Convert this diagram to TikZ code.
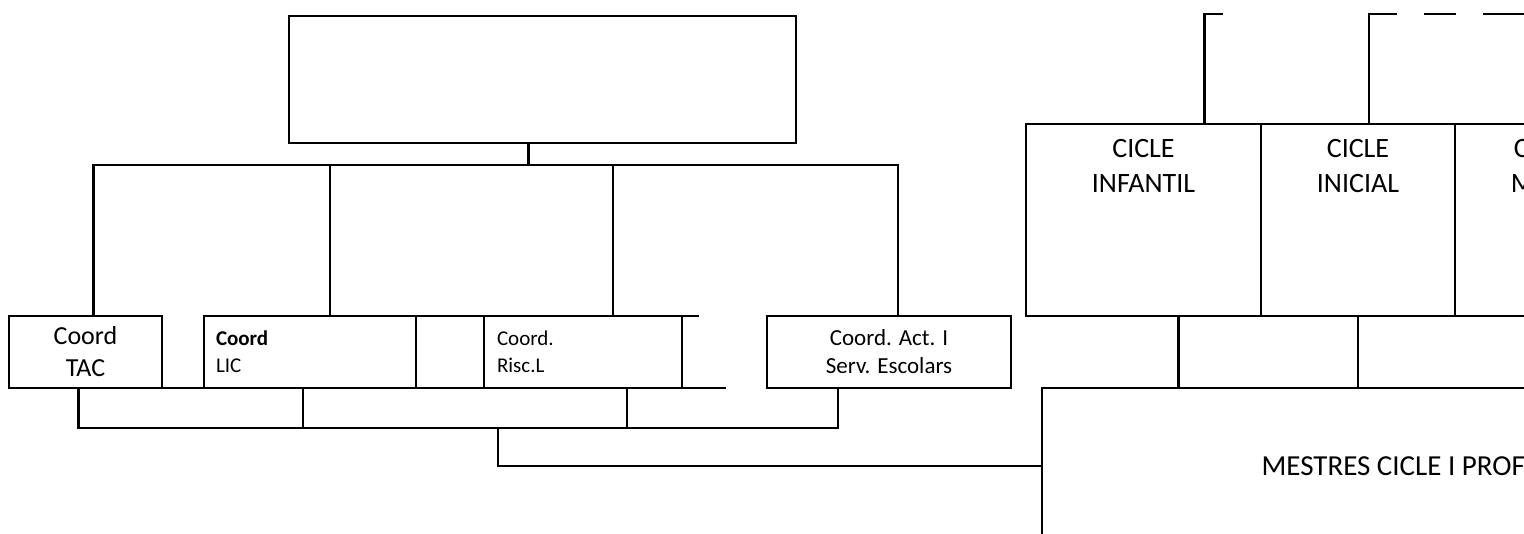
\documentclass[tikz,border=0pt]{standalone}
\usepackage{fontspec}
\setmainfont{Carlito}
\usetikzlibrary{positioning}

\begin{document}
\begin{tikzpicture}[
  x=1pt, y=-1pt,
  line width=2.3pt,
  bx/.style={draw, rectangle, anchor=north west, inner sep=0pt, outer sep=0pt, align=center, minimum height=72pt},
  tacft/.style={font=\fontsize{26}{32}\selectfont},
  licft/.style={font=\fontsize{21}{27}\selectfont},
  actft/.style={font=\fontsize{23}{28}\selectfont},
  cicleft/.style={font=\fontsize{28}{35}\selectfont},
  cicle/.style={bx, minimum height=192pt},
  ctxt/.style={cicleft, align=center, anchor=north, inner sep=0pt, yshift=-14pt},
]

\clip (0,0) rectangle (1524,533);

% direccio
\node [bx, minimum width=507pt, minimum height=127pt] (dir) at (289,16) {};

% coordinacions
\node [bx, tacft, minimum width=153pt] (tac) at (9,316) {Coord\\TAC};
\node [bx, licft, minimum width=212pt, text width=188pt, align=left] (lic) at (204,316) {\textbf{Coord}\\LIC};
\node [bx, minimum width=68pt] (buit) at (lic.north east) {};
\node [bx, licft, minimum width=198pt, text width=172pt, align=left] (risc) at (buit.north east) {Coord.\\Risc.L};
\node [bx, actft, minimum width=244pt] (act) at (767,316) {Coord. Act. I\\Serv. Escolars};

\draw (tac.south east) -- (lic.south west);
\draw (risc.north east) -- ++(17,0) coordinate (riscA);
\draw (risc.south east) -- ++(44,0) coordinate (riscB);

% cicles
\node [cicle, minimum width=235pt, label={[ctxt]north:CICLE\\INFANTIL}] (cinf) at (1026,124) {};
\node [cicle, minimum width=194pt, label={[ctxt]north:CICLE\\INICIAL}] (cini) at (cinf.north east) {};
\node [cicle, minimum width=180pt, label={[ctxt]north:CICLE\\MITJÀ}] (cmit) at (cini.north east) {};

\node [bx, font=\fontsize{29}{35}\selectfont, minimum width=791pt, minimum height=156pt] (mestres) at (1042,388) {MESTRES CICLE I PROFESSORS};

% connexions de dalt
\draw ([xshift=-14pt]dir.south) -- ++(0,22) coordinate (bus);
\draw ([xshift=8pt]tac.north) |- (bus) -| ([xshift=9pt]act.north);
\draw ([xshift=20pt]lic.north) -- ([xshift=20pt]lic.north |- bus);
\draw ([xshift=30pt]risc.north) -- ([xshift=30pt]risc.north |- bus);

% connexions de baix
\draw ([xshift=-7pt]tac.south) -- ++(0,40) coordinate (bus2) -| ([xshift=-51pt]act.south);
\draw ([xshift=-7pt]lic.south) -- ([xshift=-7pt]lic.south |- bus2);
\draw ([xshift=44pt]risc.south) -- ([xshift=44pt]risc.south |- bus2);
\coordinate (nus) at (498,428);
\draw (nus) |- (mestres.west);

% cicles amb mestres
\draw ([xshift=35pt]cinf.south) -- ([xshift=35pt]cinf.south |- mestres.north);
\draw (cini.south) -- (cini.south |- mestres.north);
\draw (mestres.north west) -- (mestres.north east);

% cap amunt
\draw ([xshift=61pt]cinf.north) |- ++(18,-110) coordinate (amunt1);
\draw ([xshift=11pt]cini.north) |- ++(28,-110) coordinate (amunt2);
\draw [dash pattern=on 32pt off 27pt on 60pt off 27pt] ([xshift=27pt]amunt2) -- ++(150,0);

\end{tikzpicture}
\end{document}
